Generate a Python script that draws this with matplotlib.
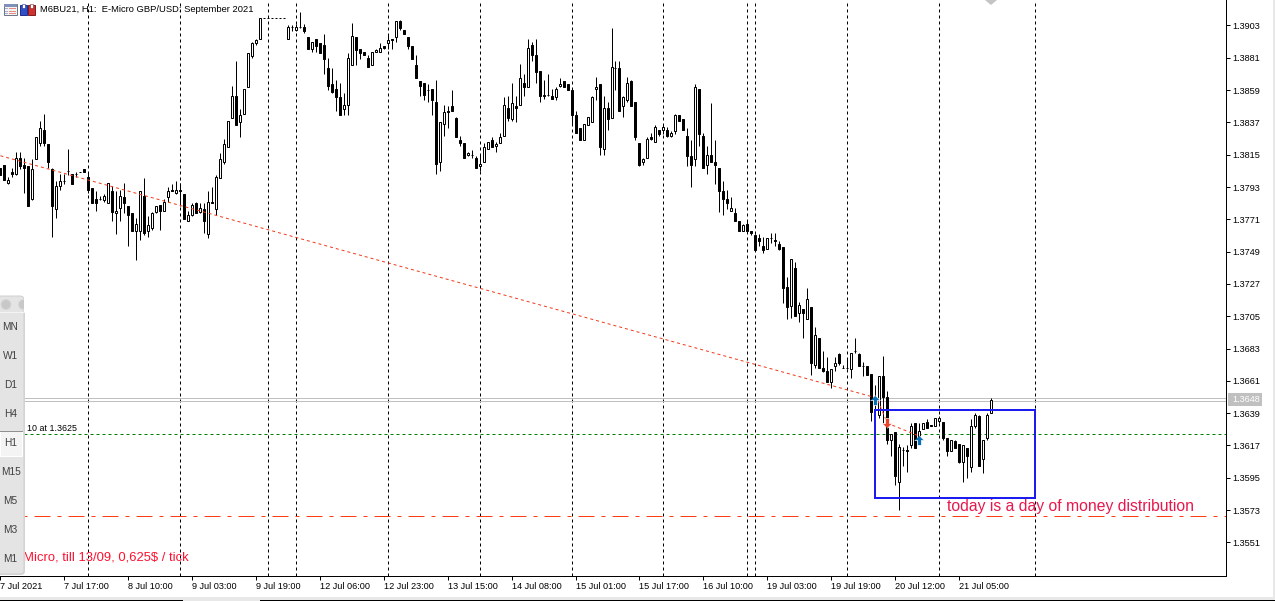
import numpy as np
import matplotlib
matplotlib.use('Agg')
import matplotlib.pyplot as plt
from matplotlib.patches import Rectangle, FancyBboxPatch, Polygon, Circle

plt.rcParams['font.family'] = ['Liberation Sans', 'DejaVu Sans']

# hourly bars, quoted in ticks (0.0001) above base_price
base_price = 1.35
first_bar = -1

opens = [
    306, 308, 296, 303, 302, 313, 308, 307, 285, 312,
    323, 332, 322, 305, 278, 294, 297, 304, 302, 302,
    303, 305, 300, 292, 285, 285, 284, 282, 290, 275,
    279, 286, 280, 275, 263, 263, 287, 263, 265, 276,
    281, 277, 286, 291, 289, 291, 288, 270, 274, 282,
    276, 278, 261, 283, 278, 299, 310, 320, 340, 355,
    337, 343, 361, 382, 391, 394, 408, 408, 408, 408,
    408, 408, 394, 402, 400, 402, 402, 395, 387, 394,
    391, 390, 374, 363, 360, 354, 346, 349, 376, 395,
    387, 385, 381, 376, 385, 385, 389, 391, 394, 395,
    406, 400, 395, 389, 376, 365, 364, 359, 360, 351,
    310, 336, 345, 348, 340, 325, 323, 315, 315, 313,
    307, 310, 319, 325, 321, 323, 328, 347, 339, 348,
    349, 364, 361, 390, 383, 372, 355, 356, 355, 354,
    362, 365, 363, 359, 342, 333, 325, 335, 337, 360,
    363, 319, 347, 340, 374, 374, 348, 352, 365, 351,
    323, 310, 313, 327, 324, 332, 332, 332, 328, 331,
    342, 339, 328, 314, 312, 360, 328, 308, 315, 310,
    306, 290, 285, 277, 275, 270, 263, 268, 263, 260,
    258, 253, 251, 258, 257, 254, 252, 225, 212, 238,
    207, 210, 203, 211, 172, 190, 170, 168, 160, 171,
    179, 170, 170, 169, 181, 179, 171, 171, 166, 148,
    138, 164, 150, 121, 126, 92, 114, 114, 117, 132,
    123, 128, 133, 131, 130, 134, 133, 122, 113, 120,
    118, 106, 115, 102, 130, 137, 108, 122, 139,
]
highs = [
    306, 308, 300, 306, 317, 317, 313, 307, 312, 327,
    338, 343, 322, 306, 297, 302, 302, 319, 302, 303,
    303, 305, 303, 292, 290, 287, 288, 296, 294, 290,
    291, 296, 280, 275, 272, 290, 299, 273, 276, 280,
    281, 285, 293, 295, 297, 296, 288, 277, 282, 283,
    282, 282, 290, 293, 301, 316, 326, 338, 362, 379,
    346, 360, 384, 392, 394, 408, 408, 408, 408, 408,
    408, 408, 403, 403, 404, 412, 404, 395, 392, 394,
    391, 397, 381, 374, 366, 364, 357, 384, 405, 395,
    387, 385, 383, 385, 387, 391, 389, 397, 394, 406,
    407, 400, 395, 389, 383, 365, 364, 363, 360, 366,
    337, 349, 348, 359, 341, 328, 323, 317, 318, 314,
    315, 323, 324, 327, 324, 330, 354, 355, 364, 355,
    377, 370, 394, 392, 394, 372, 366, 370, 360, 361,
    367, 365, 363, 359, 345, 333, 336, 341, 355, 368,
    363, 355, 351, 401, 379, 379, 355, 368, 366, 351,
    323, 313, 327, 330, 335, 332, 335, 334, 331, 343,
    342, 339, 333, 325, 363, 360, 330, 321, 350, 325,
    306, 297, 291, 286, 279, 270, 268, 270, 263, 261,
    261, 259, 258, 262, 262, 256, 252, 232, 244, 242,
    215, 210, 224, 211, 198, 190, 181, 177, 169, 177,
    180, 172, 176, 180, 190, 180, 174, 171, 166, 158,
    164, 178, 154, 125, 126, 118, 116, 117, 132, 132,
    132, 132, 135, 131, 136, 137, 133, 122, 121, 121,
    118, 117, 115, 135, 139, 138, 121, 139, 149,
]
lows = [
    301, 298, 295, 300, 301, 305, 289, 280, 284, 312,
    321, 321, 306, 259, 272, 291, 295, 301, 295, 300,
    303, 303, 289, 282, 277, 284, 283, 282, 270, 261,
    270, 275, 253, 263, 243, 257, 260, 259, 264, 275,
    264, 277, 283, 290, 288, 280, 271, 270, 273, 275,
    275, 262, 258, 282, 274, 299, 309, 320, 340, 335,
    327, 343, 361, 381, 390, 394, 408, 408, 408, 408,
    408, 408, 394, 399, 399, 401, 398, 387, 385, 385,
    384, 370, 359, 357, 345, 342, 342, 342, 376, 376,
    380, 383, 375, 376, 385, 385, 387, 387, 387, 392,
    400, 397, 387, 380, 367, 355, 352, 351, 342, 302,
    304, 328, 333, 345, 327, 321, 313, 314, 313, 306,
    304, 310, 319, 320, 317, 323, 328, 338, 338, 337,
    349, 355, 361, 379, 364, 351, 353, 355, 353, 352,
    361, 361, 359, 336, 330, 325, 325, 335, 337, 352,
    315, 315, 332, 340, 359, 345, 341, 351, 348, 325,
    307, 308, 313, 325, 324, 328, 329, 327, 327, 329,
    338, 332, 307, 293, 307, 321, 306, 302, 310, 295,
    276, 274, 278, 277, 270, 263, 263, 263, 260, 250,
    253, 248, 251, 255, 253, 250, 214, 203, 204, 205,
    201, 190, 203, 165, 170, 170, 167, 160, 156, 168,
    172, 170, 169, 163, 180, 171, 164, 165, 134, 141,
    136, 132, 118, 110, 90, 73, 103, 99, 115, 115,
    121, 128, 129, 130, 130, 132, 121, 110, 113, 115,
    105, 92, 95, 99, 129, 103, 98, 121, 139,
]
closes = [
    301, 298, 298, 302, 313, 307, 306, 280, 305, 327,
    333, 323, 310, 280, 294, 297, 297, 304, 295, 302,
    303, 303, 291, 282, 282, 285, 287, 296, 276, 277,
    287, 282, 274, 263, 268, 290, 262, 267, 275, 280,
    277, 283, 290, 290, 291, 290, 271, 274, 281, 275,
    279, 270, 283, 282, 300, 312, 322, 338, 355, 335,
    342, 360, 384, 391, 393, 408, 408, 408, 408, 408,
    408, 408, 402, 402, 402, 402, 399, 387, 392, 389,
    384, 380, 362, 358, 354, 342, 349, 381, 396, 386,
    384, 383, 375, 385, 386, 388, 388, 393, 393, 406,
    401, 397, 389, 380, 367, 362, 356, 359, 352, 309,
    337, 344, 344, 345, 327, 323, 313, 316, 315, 306,
    309, 320, 324, 320, 322, 327, 349, 340, 350, 347,
    367, 361, 388, 383, 371, 355, 356, 356, 353, 360,
    363, 361, 359, 342, 330, 325, 336, 341, 354, 361,
    320, 347, 339, 375, 374, 345, 354, 364, 348, 327,
    308, 312, 326, 326, 334, 329, 334, 328, 330, 342,
    338, 332, 314, 308, 361, 329, 306, 315, 310, 308,
    290, 285, 282, 279, 270, 263, 267, 263, 262, 250,
    256, 250, 258, 258, 256, 251, 224, 211, 244, 205,
    213, 207, 217, 173, 192, 170, 168, 160, 169, 173,
    173, 170, 170, 180, 181, 171, 171, 165, 140, 148,
    164, 150, 121, 125, 96, 116, 114, 113, 130, 115,
    127, 132, 129, 130, 136, 136, 122, 113, 121, 115,
    106, 117, 110, 130, 138, 103, 121, 138, 148,
]

price_ticks = [1.3903, 1.3881, 1.3859, 1.3837, 1.3815, 1.3793, 1.3771, 1.3749, 1.3727,
               1.3705, 1.3683, 1.3661, 1.3639, 1.3617, 1.3595, 1.3573, 1.3551]
time_tick_bars = [-1, 15, 31, 47, 63, 79, 95, 111, 127, 143, 159, 175, 191, 207, 223, 239]
time_labels = ['7 Jul 2021', '7 Jul 17:00', '8 Jul 10:00', '9 Jul 03:00', '9 Jul 19:00',
               '12 Jul 06:00', '12 Jul 23:00', '13 Jul 15:00', '14 Jul 08:00', '15 Jul 01:00',
               '15 Jul 17:00', '16 Jul 10:00', '19 Jul 03:00', '19 Jul 19:00', '20 Jul 12:00',
               '21 Jul 05:00']

# vertical lines drawn by hand on the chart
vline_bars = [21, 44, 66, 73, 96, 119, 142, 165, 186, 188, 211, 234, 258]

# price levels
last_price = 1.3648
bid_line = 1.36475
ask_line = 1.3649
order_price = 1.3625
target_price = 1.3569

# trade history line and its arrows
trade_bars = [-0.9, 218.4, 221, 228.6]
trade_prices = [1.38143, 1.36493, 1.36322, 1.36238]
buy_bars = [218, 229]
buy_prices = [1.3648, 1.3621]
sell_bars = [221]
sell_prices = [1.3632]

# blue box
box_bars = [218, 258]
box_prices = [1.3581, 1.3641]

panel_labels = ['MN', 'W1', 'D1', 'H4', 'H1', 'M15', 'M5', 'M3', 'M1']

bars = np.arange(first_bar, first_bar + len(closes))
o = base_price + np.array(opens) / 10000
h = base_price + np.array(highs) / 10000
l = base_price + np.array(lows) / 10000
c = base_price + np.array(closes) / 10000

W, H = 1275, 601
PX = 0.72  # one pixel in points at dpi 100
fig = plt.figure(figsize=(W / 100, H / 100), dpi=100)
ax = fig.add_axes([0, (H - 576) / H, 1225.7 / W, 576 / H])

# bar n sits at pixel 3 + 4n
ax.set_xlim(-0.75, (1225.7 - 3) / 4)
# 1.3903 at pixel 25.5, one pixel is 0.0000681
ax.set_ylim(1.3903 - (576 - 25.5) * 0.0000681, 1.3903 + 25.5 * 0.0000681)

for b in vline_bars:
    ax.axvline(b, color='black', lw=PX, ls=(0, (3, 3)), zorder=1, snap=True)

ax.axhline(bid_line, color='#c0c0c0', lw=PX, zorder=1, snap=True)
ax.axhline(ask_line, color='#c0c0c0', lw=PX, zorder=1, snap=True)
ax.axhline(order_price, color='#008000', lw=PX, ls=(0, (3, 3)), zorder=1, snap=True)
ax.axhline(target_price, color='#ff3c14', lw=PX, ls=(0, (16, 7, 4, 7)), zorder=1, snap=True)

ax.vlines(bars, l, h, color='black', lw=PX, zorder=3, snap=True)
body_low = np.minimum(o, c)
body_high = np.maximum(o, c)
face = ['white' if cl > op else 'black' for op, cl in zip(o, c)]
ax.bar(bars, body_high - body_low, bottom=body_low, width=0.5, color=face,
       edgecolor='black', linewidth=PX, zorder=4)

ax.plot(trade_bars, trade_prices, color='#f03c1e', lw=PX, ls=(0, (3, 3)), zorder=5)

up_arrow = [(0, 1), (1, 0), (0.4, 0), (0.4, -1), (-0.4, -1), (-0.4, 0), (-1, 0)]
down_arrow = [(x, -y) for x, y in up_arrow]
ax.plot(buy_bars, buy_prices, ls='none', marker=up_arrow, ms=7, mfc='#0a6eb4', mec='white',
        mew=0.5, zorder=6)
ax.plot(sell_bars, sell_prices, ls='none', marker=down_arrow, ms=7, mfc='#e8452c', mec='white',
        mew=0.5, zorder=6)

ax.add_patch(Rectangle((box_bars[0], box_prices[0]), box_bars[1] - box_bars[0],
                       box_prices[1] - box_prices[0], fill=False, edgecolor='#1c1cf0',
                       lw=PX * 2, zorder=7))

for s in ['top', 'left']:
    ax.spines[s].set_visible(False)
for s in ['right', 'bottom']:
    ax.spines[s].set_linewidth(PX)

ax.yaxis.tick_right()
ax.set_yticks(price_ticks)
ax.set_yticklabels([f'{p:.4f}' for p in price_ticks], fontsize=6.6)
ax.tick_params(axis='y', length=3.2, width=PX, pad=1.6)
ax.set_xticks(time_tick_bars)
ax.set_xticklabels(time_labels, fontsize=6.6, ha='left')
ax.tick_params(axis='x', length=2.6, width=PX, pad=1.6)

# window furniture, placed in screen pixels
ui = fig.add_axes([0, 0, 1, 1], facecolor='none')
ui.set_xlim(0, W)
ui.set_ylim(H, 0)
ui.axis('off')

ui.text(40, 9.5, 'M6BU21, H1:  E-Micro GBP/USD: September 2021', fontsize=6.75, va='center', ha='left')
ui.add_patch(Rectangle((3.5, 4), 13, 11, fc='#f4f4f4', ec='#707888', lw=PX))
ui.add_patch(Rectangle((3.5, 4), 13, 2.5, fc='#8090b8', ec='none'))
for sy in [8, 10.5, 13]:
    ui.add_patch(Rectangle((9, sy), 6.5, 1.3, fc='#e88a80', ec='none'))
    ui.add_patch(Rectangle((4.5, sy), 3.5, 1.3, fc='#a0b0d8', ec='none'))
ui.add_patch(Rectangle((20, 5), 7, 10, fc='#3050c8', ec='#203090', lw=PX))
ui.add_patch(Rectangle((28, 5), 7, 10, fc='#d03030', ec='#802020', lw=PX))
ui.add_patch(Rectangle((22, 4), 3, 4, fc='white', ec='#203090', lw=0.4))
ui.add_patch(Rectangle((30, 4), 3, 4, fc='white', ec='#802020', lw=0.4))
ui.add_patch(Polygon([(985, 0), (997, 0), (991, 5)], fc='#c4c4c4', ec='none'))

ui.text(27, 428.5, '10 at 1.3625', fontsize=6.4, va='center', ha='left')
ui.text(947, 507, 'today is a day of money distribution', fontsize=11.3, color='#e8174c',
        va='center', ha='left', zorder=8)
ui.text(189, 558, 'Micro, till 13/09, 0,625$ / tick', fontsize=9.4, color='#ff1030',
        va='center', ha='right', zorder=8)

# current price label
ui.add_patch(Rectangle((1228, 393), 34, 13, fc='#c0c0c0', ec='none'))
ui.text(1232, 400, f'{last_price:.4f}', color='white', fontsize=6.6, va='center', ha='left')

# timeframe panel
ui.add_patch(FancyBboxPatch((-12, 298), 37, 277, boxstyle='round,pad=0,rounding_size=4',
                            fc='#d8d8d8', ec='none', zorder=9))
ui.add_patch(FancyBboxPatch((-12, 296), 36, 278, boxstyle='round,pad=0,rounding_size=4',
                            fc='#e4e4e4', ec='#d0d0d0', lw=PX, zorder=10))
ui.plot([0, 24], [312, 312], color='#f4f4f4', lw=PX, zorder=11)
ui.add_patch(Circle((6, 304.5), 5, fc='#c8c8c8', ec='#d8d8d8', lw=PX, zorder=11))
ui.add_patch(Circle((23.5, 304.5), 5, fc='#c8c8c8', ec='#d8d8d8', lw=PX, zorder=11, clip_on=True))
ui.add_patch(Rectangle((24, 298), 6, 14, fc='white', ec='none', zorder=12))
ui.add_patch(Rectangle((0, 431), 22, 25, fc='#f4f4f4', ec='white', lw=PX, zorder=11))
ui.plot([0, 22], [430.5, 430.5], color='#909090', lw=PX, zorder=12)
for i, lab in enumerate(panel_labels):
    ui.text(10.5, 327 + i * 29, lab, fontsize=7.3, color='#404040', va='center', ha='center', zorder=13)

# bottom of the window
ui.add_patch(Rectangle((0, 597), W, 4, fc='#e8e8e8', ec='none'))
ui.plot([0, 182], [600, 600], color='black', lw=PX)
ui.plot([260, W], [600, 600], color='black', lw=PX)
ui.add_patch(Rectangle((1273, 0), 2, H, fc='#e8e8e8', ec='none'))

fig.savefig('out.png', dpi=100)
